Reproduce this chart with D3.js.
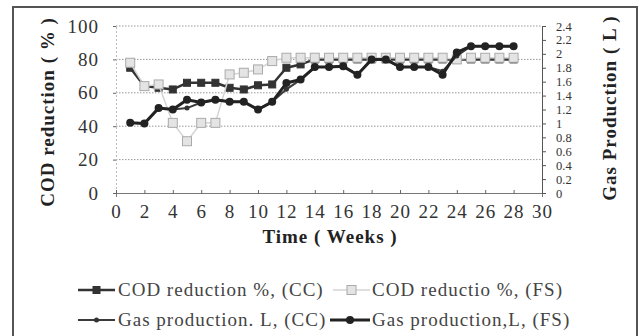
<!DOCTYPE html>
<html><head><meta charset="utf-8">
<script src="https://cdn.jsdelivr.net/npm/d3@7/dist/d3.min.js"></script>
<style>
html,body{margin:0;padding:0;background:#fff;}
svg{display:block;}
svg text{font-family:'Liberation Serif','DejaVu Serif',serif !important;}
</style></head>
<body>
<svg id="c" width="641" height="336"></svg>
<script>
const weeks = [1,2,3,4,5,6,7,8,9,10,11,12,13,14,15,16,17,18,19,20,21,22,23,24,25,26,27,28];
const codCC = [75,64,63,62,66,66,66,63,62,64.5,65,75,77,80,80,80,80,80,80,80,80,80,80,80,80,80,80,80];
const codFS = [78,64,65,42,31,42,42,71,72,74,79,81,81,81,81,81,81,81,81,81,81,81,81,80,81,81,81,81];
const gasCC = [1.01,1.00,1.22,1.20,1.22,1.30,1.34,1.31,1.31,1.20,1.31,1.49,1.63,1.81,1.81,1.82,1.70,1.92,1.92,1.81,1.81,1.81,1.75,1.97,2.11,2.11,2.11,2.11];
const gasFS = [1.01,1.00,1.22,1.20,1.34,1.30,1.34,1.31,1.31,1.20,1.31,1.58,1.63,1.81,1.81,1.82,1.70,1.92,1.92,1.81,1.81,1.81,1.70,2.02,2.11,2.11,2.11,2.11];
const xTicks = [0,2,4,6,8,10,12,14,16,18,20,22,24,26,28,30];
const yTicks = [0,20,40,60,80,100];
const y2Ticks = [0,0.2,0.4,0.6,0.8,1,1.2,1.4,1.6,1.8,2,2.2,2.4];
const legendLabels = ["COD reduction %, (CC)","COD reductio %, (FS)","Gas production. L, (CC)","Gas production,L, (FS)"];

const FONT = "'Liberation Serif','DejaVu Serif',serif";
const svg = d3.select("#c");
const x = d3.scaleLinear().domain([0,30]).range([116,542]);
const y = d3.scaleLinear().domain([0,100]).range([193,26]);
const y2 = d3.scaleLinear().domain([0,2.4]).range([193,26]);

// frame
svg.append("rect").attr("x",13).attr("y",7).attr("width",624).attr("height",340)
  .attr("fill","#fff").attr("stroke","#555").attr("stroke-width",2);

// gridlines
svg.append("g").selectAll("line").data(yTicks.filter(d=>d>0)).join("line")
  .attr("x1",x(0)).attr("x2",x(30)).attr("y1",d=>y(d)).attr("y2",d=>y(d))
  .attr("stroke","#999").attr("stroke-width",1).attr("stroke-dasharray","1.5,1.5");

// left axis
const gl = svg.append("g").attr("transform",`translate(${x(0)},0)`)
  .call(d3.axisLeft(y).tickValues(yTicks).tickSize(3).tickPadding(14));
gl.attr("font-family",FONT);
gl.select(".domain").attr("stroke","#bbb").attr("stroke-dasharray","2,2");
gl.selectAll(".tick line").attr("stroke","#666");
gl.selectAll("text").attr("font-size",19).attr("fill","#333").attr("letter-spacing",1);

// bottom axis
const gb = svg.append("g").attr("transform",`translate(0,${y(0)})`)
  .call(d3.axisBottom(x).tickValues(xTicks).tickSize(4).tickPadding(8));
gb.attr("font-family",FONT);
gb.select(".domain").attr("stroke","#777");
gb.selectAll(".tick line").attr("stroke","#666").attr("transform","translate(0,-3)");
gb.selectAll("text").attr("font-size",19).attr("fill","#333").attr("letter-spacing",1);

// right axis
const gr = svg.append("g").attr("transform",`translate(${x(30)},0)`)
  .call(d3.axisRight(y2).tickValues(y2Ticks).tickSize(4).tickPadding(10).tickFormat(d3.format("~g")));
gr.attr("font-family",FONT);
gr.select(".domain").attr("stroke","#555");
gr.selectAll(".tick line").attr("stroke","#555");
gr.selectAll("text").attr("font-size",12.5).attr("fill","#333");

// titles
svg.append("text").attr("x",330).attr("y",243).attr("text-anchor","middle")
  .attr("font-size",19).attr("font-weight","bold").attr("fill","#222").attr("letter-spacing",1)
  .text("Time ( Weeks )");
svg.append("text").attr("transform","translate(54,112) rotate(-90)").attr("text-anchor","middle")
  .attr("font-size",19).attr("font-weight","bold").attr("fill","#222").attr("letter-spacing",1)
  .text("COD reduction ( % )");
svg.append("text").attr("transform","translate(616,108) rotate(-90)").attr("text-anchor","middle")
  .attr("font-size",19).attr("font-weight","bold").attr("fill","#222").attr("letter-spacing",1)
  .text("Gas Production ( L )");

const series = [
  {vals:codCC, sc:y, line:"#333", lw:2.5, mk:"sq", ms:7, fill:"#333", st:"#333"},
  {vals:codFS, sc:y, line:"#d4d4d4", lw:1.5, mk:"sq", ms:9, fill:"#e4e4e4", st:"#aaa"},
  {vals:gasCC, sc:y2, line:"#3a3a3a", lw:2, mk:"dot", ms:2.5, fill:"#333", st:"#333"},
  {vals:gasFS, sc:y2, line:"#222", lw:3, mk:"dot", ms:4, fill:"#222", st:"#222"}
];

series.forEach(s=>{
  const data = weeks.map((w,i)=>[w,s.vals[i]]);
  svg.append("path").datum(data)
    .attr("d",d3.line().x(d=>x(d[0])).y(d=>s.sc(d[1])))
    .attr("fill","none").attr("stroke",s.line).attr("stroke-width",s.lw).attr("stroke-linejoin","round");
  const g = svg.append("g");
  if(s.mk==="sq"){
    g.selectAll("rect").data(data).join("rect")
      .attr("x",d=>x(d[0])-s.ms/2).attr("y",d=>s.sc(d[1])-s.ms/2)
      .attr("width",s.ms).attr("height",s.ms).attr("fill",s.fill).attr("stroke",s.st).attr("stroke-width",1);
  } else {
    g.selectAll("circle").data(data).join("circle")
      .attr("cx",d=>x(d[0])).attr("cy",d=>s.sc(d[1])).attr("r",s.ms).attr("fill",s.fill);
  }
});

// legend
const legPos = [{x0:78,x1:115,tx:118,y:290},{x0:333,x1:370,tx:372,y:290},{x0:78,x1:115,tx:118,y:320},{x0:330,x1:370,tx:372,y:320}];
legPos.forEach((p,i)=>{
  const s = series[i];
  const g = svg.append("g");
  g.append("line").attr("x1",p.x0).attr("x2",p.x1).attr("y1",p.y).attr("y2",p.y)
    .attr("stroke",s.line).attr("stroke-width",s.lw);
  const cx=(p.x0+p.x1)/2;
  if(s.mk==="sq"){
    g.append("rect").attr("x",cx-s.ms/2).attr("y",p.y-s.ms/2).attr("width",s.ms).attr("height",s.ms)
      .attr("fill",s.fill).attr("stroke",s.st);
  } else {
    g.append("circle").attr("cx",cx).attr("cy",p.y).attr("r",s.ms).attr("fill",s.fill);
  }
  g.append("text").attr("x",p.tx).attr("y",p.y+6).attr("font-size",19).attr("fill","#444")
    .attr("font-family",FONT).attr("letter-spacing",1).text(legendLabels[i]);
});
</script>
</body></html>
